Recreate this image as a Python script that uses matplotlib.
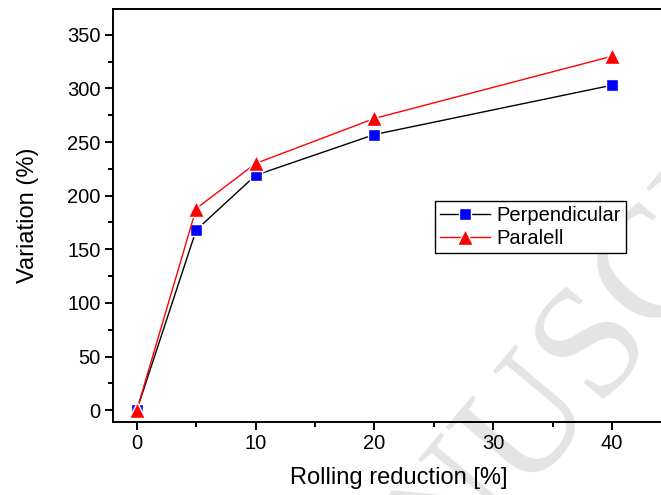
import matplotlib.pyplot as plt
from matplotlib.ticker import MultipleLocator

reduction = [0, 5, 10, 20, 40]
perpendicular = [0, 168, 219, 257, 303]
paralell = [0, 188, 230, 272, 330]

plt.rcParams['font.family'] = ['Liberation Sans', 'DejaVu Sans']

fig = plt.figure(figsize=(6.61, 4.95), dpi=100)
ax = fig.add_axes([0.171, 0.1475, 0.863, 0.8343])
ax.patch.set_alpha(0)

# faint watermark behind the plot
fig.text(0.885, 0.275, 'MANUSCRIPT', rotation=50, ha='center', va='center',
         fontsize=115, family='Liberation Serif', color='#e4e4e4', zorder=-5)

ax.plot(reduction, perpendicular, '-', color='black', lw=1,
        marker='s', ms=9, mfc='blue', mec='white', mew=1, label='Perpendicular')
ax.plot(reduction, paralell, '-', color='red', lw=1,
        marker='^', ms=11, mfc='red', mec='white', mew=1, label='Paralell')

ax.set_xlim(-2, 46)
ax.set_ylim(-11, 374)
ax.xaxis.set_major_locator(MultipleLocator(10))
ax.xaxis.set_minor_locator(MultipleLocator(5))
ax.yaxis.set_major_locator(MultipleLocator(50))
ax.yaxis.set_minor_locator(MultipleLocator(25))

for s in ax.spines.values():
    s.set_linewidth(1.4)
ax.tick_params(which='major', direction='out', length=6, width=1.4, labelsize=14.5, pad=3)
ax.tick_params(which='minor', direction='out', length=3.6, width=1.4)

ax.set_xlabel('Rolling reduction [%]', fontsize=17, labelpad=10)
ax.set_ylabel('Variation (%)', fontsize=17, labelpad=20)

leg = ax.legend(loc='lower left', bbox_to_anchor=(0.564, 0.41), borderaxespad=0,
                fontsize=14.5, fancybox=False, framealpha=1, edgecolor='black',
                handlelength=2.5, handletextpad=0.3, borderpad=0.25, labelspacing=0.2)
leg.get_frame().set_linewidth(1)

fig.savefig('out.png', dpi=100)
